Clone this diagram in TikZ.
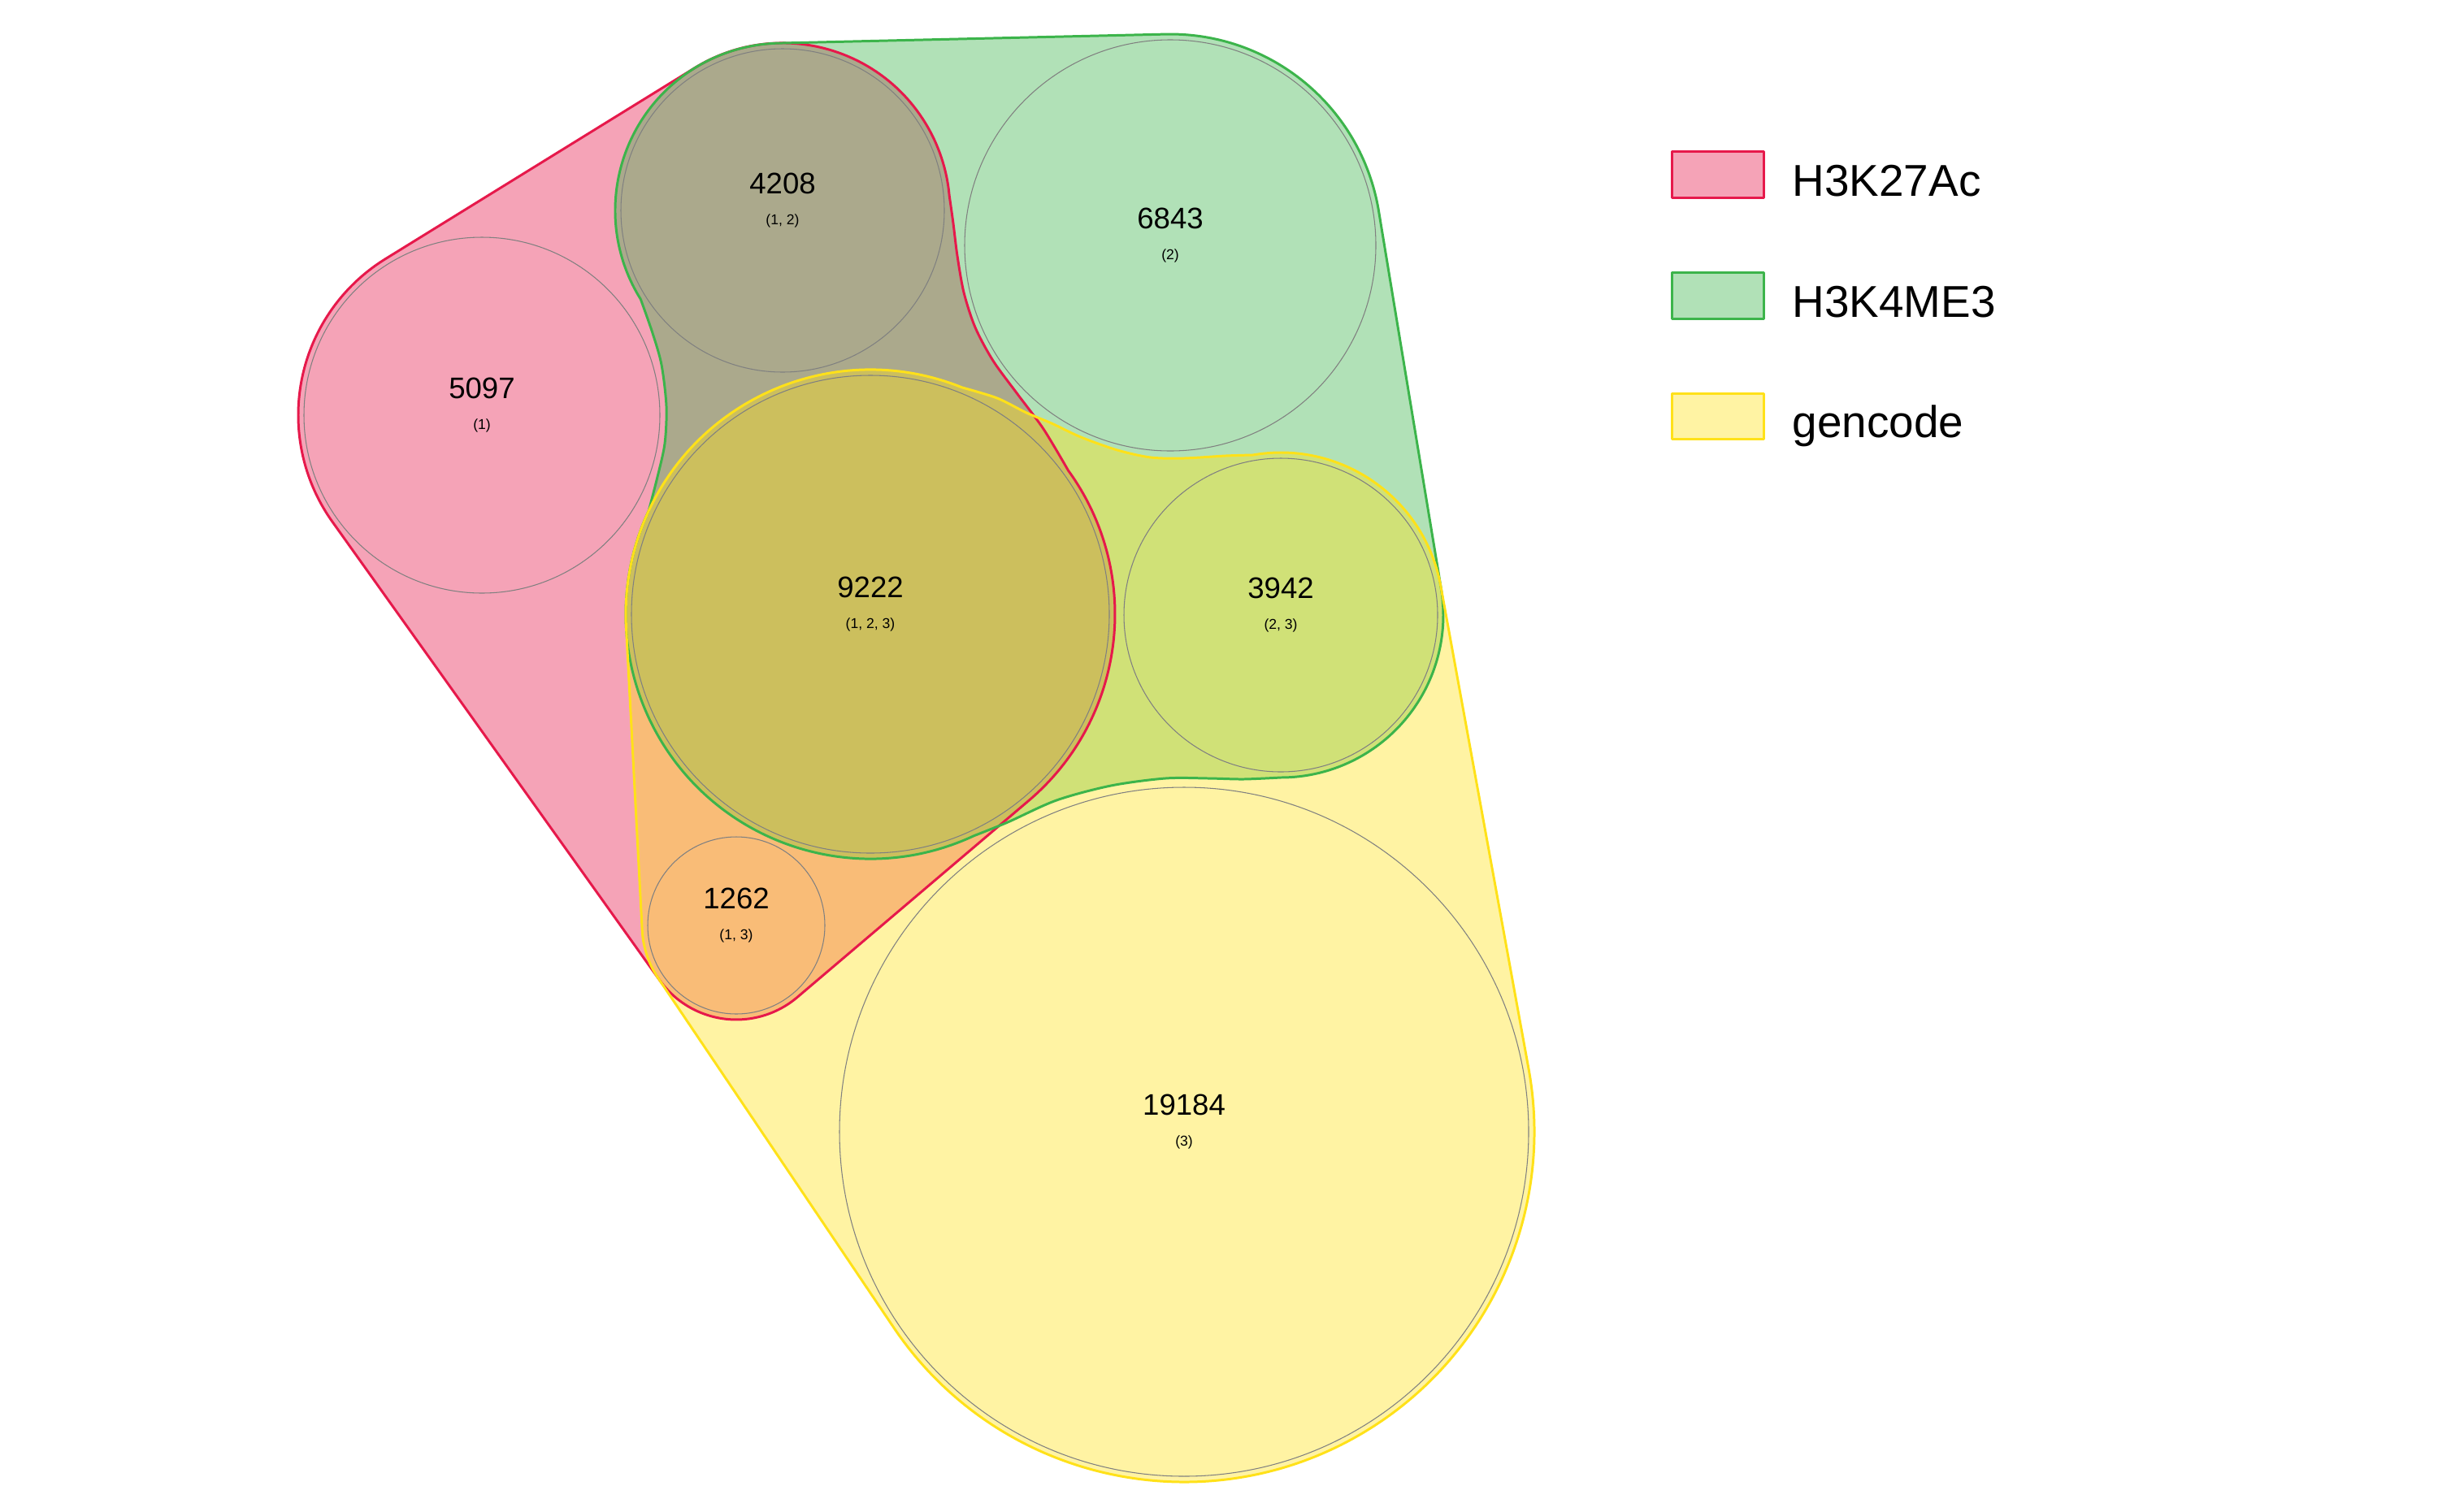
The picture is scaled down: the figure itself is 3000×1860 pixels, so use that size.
\documentclass[tikz,border=0pt]{standalone}
\usepackage{fontspec}
\setmainfont{Liberation Sans}
\usepackage{xcolor}
\definecolor{Venn_Red}{HTML}{E6194B}
\definecolor{Venn_Green}{HTML}{3CB44B}
\definecolor{Venn_Yellow}{HTML}{FFE119}

% outlines of the three sets
\newcommand{\hullAc}{(854.7,83.7) arc[start angle=-121.7, end angle=-5, radius=206]
  -- plot[smooth] coordinates {(1168.2,241) (1173,275) (1178,315) (1186,360) (1200,403) (1222,444) (1252,485) (1284,528) (1314.5,579.1)}
  arc[start angle=-36, end angle=49.6, radius=301]
  -- (981.2,1227.3) arc[start angle=49.6, end angle=144.5, radius=116]
  -- (409,642.2) arc[start angle=144.5, end angle=238.3, radius=226] -- cycle}
\newcommand{\hullMe}{(958.3,53.1) -- (1434.1,42.1) arc[start angle=-91.3, end angle=-9.38, radius=260]
  -- (1773.3,724.4) arc[start angle=-9.38, end angle=90, radius=200]
  -- plot[smooth] coordinates {(1576,957) (1530,959) (1487,958) (1434,958) (1367,967) (1300,985) (1240,1012) (1198.2,1028.8)}
  arc[start angle=65, end angle=205, radius=301]
  -- plot[smooth] coordinates {(798.2,628.8) (809,587) (818,546) (820,500) (814,449) (803,410) (788.3,368.2)}
  arc[start angle=148, end angle=268.7, radius=206] -- cycle}
\newcommand{\hullGen}{(1183.8,476.9) arc[start angle=-68, end angle=-183.03, radius=301]
  -- (790.2,1145.1) arc[start angle=176.97, end angle=146.03, radius=116]
  -- (1099.6,1633.8) arc[start angle=146.03, end angle=-10.32, radius=431]
  -- (1772.8,721.2) arc[start angle=-10.32, end angle=-100, radius=200]
  -- plot[smooth] coordinates {(1541.3,560) (1508,561) (1457,564) (1416,563) (1375,554) (1330,538) (1294,521) (1263,508) (1227,490) (1183.8,476.9)} -- cycle}

\begin{document}
\begin{tikzpicture}[x=0.01cm, y=-0.01cm,
    hull/.style={line width=0.85pt, line join=round},
    bubble/.style={draw=gray, line width=0.3pt},
    count/.style={inner sep=0pt, font=\fontsize{10.4}{12}\selectfont},
    members/.style={inner sep=0pt, font=\fontsize{5}{6}\selectfont},
    keytext/.style={anchor=base west, inner sep=0pt, font=\fontsize{15.6}{18}\selectfont}]
    \useasboundingbox (0,0) rectangle (3000,1860);

    % Set areas
    \fill[Venn_Red, fill opacity=0.4] \hullAc;
    \fill[Venn_Green, fill opacity=0.4] \hullMe;
    \fill[Venn_Yellow, fill opacity=0.4] \hullGen;

    % Region circles
    \draw[bubble] (593,511) circle[radius=219];
    \draw[bubble] (963,259) circle[radius=199];
    \draw[bubble] (1440,302) circle[radius=253];
    \draw[bubble] (1071,756) circle[radius=294];
    \draw[bubble] (1576,757) circle[radius=193];
    \draw[bubble] (906,1139) circle[radius=109];
    \draw[bubble] (1457,1393) circle[radius=424];

    % Set outlines
    \draw[hull, Venn_Red] \hullAc;
    \draw[hull, Venn_Green] \hullMe;
    \draw[hull, Venn_Yellow] \hullGen;

    % Counts
    \node[count] (v5097) at (593,478) {5097}; \node[members] (m5097) at (593,524) {(1)};
    \node[count] (v4208) at (963,226) {4208}; \node[members] (m4208) at (963,272) {(1, 2)};
    \node[count] (v6843) at (1440,269) {6843}; \node[members] (m6843) at (1440,315) {(2)};
    \node[count] (v9222) at (1071,723) {9222}; \node[members] (m9222) at (1071,769) {(1, 2, 3)};
    \node[count] (v3942) at (1576,724) {3942}; \node[members] (m3942) at (1576,770) {(2, 3)};
    \node[count] (v1262) at (906,1106) {1262}; \node[members] (m1262) at (906,1152) {(1, 3)};
    \node[count] (v19184) at (1457,1360) {19184}; \node[members] (m19184) at (1457,1406) {(3)};

    % Legend
    \draw[hull, Venn_Red, fill=Venn_Red!40] (2057,186) rectangle (2170,243);
    \node[keytext] (kAc) at (2205,241.7) {H3K27Ac};
    \draw[hull, Venn_Green, fill=Venn_Green!40] (2057,335) rectangle (2170,392);
    \node[keytext] (kMe) at (2205,390.7) {H3K4ME3};
    \draw[hull, Venn_Yellow, fill=Venn_Yellow!40] (2057,484) rectangle (2170,540);
    \node[keytext] (kGen) at (2205,538.3) {gencode};
\end{tikzpicture}
\end{document}
